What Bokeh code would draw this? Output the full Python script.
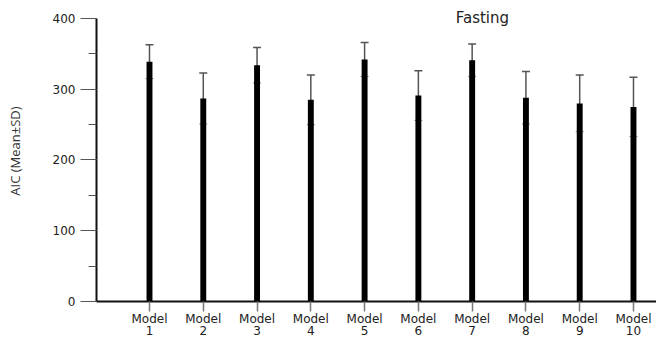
from bokeh.plotting import figure
from bokeh.models import (Whisker, ColumnDataSource, FixedTicker, Range1d, Label,
                          TeeHead, SingleIntervalTicker)
from bokeh.embed import file_html
from bokeh.resources import INLINE

# ---- data ----
models = [1, 2, 3, 4, 5, 6, 7, 8, 9, 10]
tick_labels = ["Model\n%d" % m for m in models]
means = [339, 287, 334, 285, 342, 291, 341, 288, 280, 275]
sds = [24, 36, 25, 35, 24, 35, 23, 37, 40, 42]

lower = [m - s for m, s in zip(means, sds)]
upper = [m + s for m, s in zip(means, sds)]
src = ColumnDataSource(dict(x=models, mean=means, lower=lower, upper=upper))

FONT = "DejaVu Sans"

p = figure(width=656, height=341, output_backend="svg", toolbar_location=None,
           x_range=Range1d(0.0145, 10.428), y_range=Range1d(0, 425.4),
           min_border_top=0, min_border_right=0, min_border_left=96, min_border_bottom=40)
p.outline_line_color = None
p.xgrid.visible = False
p.ygrid.visible = False
p.background_fill_color = "white"
p.border_fill_color = "white"

# error bars (drawn beneath bars)
w = Whisker(source=src, base="x", lower="lower", upper="upper",
            line_color="#555555", line_width=1.5, level="underlay",
            upper_head=TeeHead(size=8, line_color="#555555", line_width=1.5),
            lower_head=TeeHead(size=8, line_color="#888888", line_width=1))
p.add_layout(w)

p.vbar(x="x", top="mean", width=0.11, source=src, fill_color="black", line_color=None)

# y axis
ya = p.yaxis[0]
ya.ticker = SingleIntervalTicker(interval=100, num_minor_ticks=2)
ya.bounds = (0, 400)
ya.axis_label = "AIC (Mean±SD)"
ya.axis_label_text_font = "Open Sans"
ya.axis_label_text_font_size = "13px"
ya.axis_label_text_font_style = "normal"
ya.axis_label_text_color = "#333333"
ya.axis_label_standoff = 26
ya.major_label_text_font = FONT
ya.major_label_text_font_size = "12px"
ya.major_label_text_color = "#222222"
ya.major_label_standoff = 5
ya.axis_line_width = 2
ya.axis_line_color = "#111111"
ya.major_tick_out = 16
ya.major_tick_in = 0
ya.minor_tick_out = 8
ya.minor_tick_in = 0
ya.major_tick_line_color = "#555555"
ya.minor_tick_line_color = "#555555"
ya.major_tick_line_width = 1.2
ya.minor_tick_line_width = 1.2

# x axis
xa = p.xaxis[0]
xa.ticker = FixedTicker(ticks=models)
xa.major_label_overrides = {m: lbl for m, lbl in zip(models, tick_labels)}
xa.major_label_text_font = FONT
xa.major_label_text_font_size = "12px"
xa.major_label_text_line_height = 0.9
xa.major_label_text_color = "#222222"
xa.major_label_standoff = 0
xa.axis_line_width = 2
xa.axis_line_color = "#111111"
xa.major_tick_out = 10
xa.major_tick_in = 0
xa.minor_tick_out = 0
xa.minor_tick_in = 0
xa.major_tick_line_color = "#777777"
xa.major_tick_line_width = 1.5

# title
title = Label(x=7.19, y=401, text="Fasting", text_font=FONT, text_font_size="15px",
              text_align="center", text_baseline="middle", text_color="#222222")
p.add_layout(title)

open("out.html", "w").write(file_html(p, INLINE))
